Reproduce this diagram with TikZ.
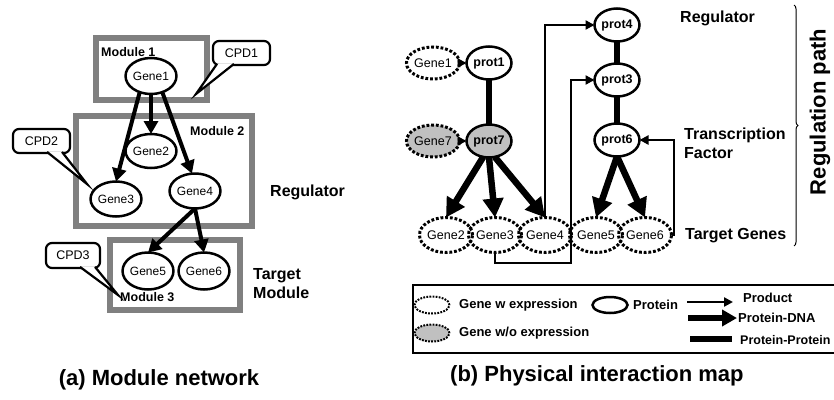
\documentclass[tikz,border=0pt]{standalone}
\usepackage{fontspec}
\setmainfont{Liberation Sans}
\usetikzlibrary{arrows.meta,decorations.pathreplacing,calc,shapes.geometric}
\definecolor{modgray}{RGB}{128,128,128}
\definecolor{genegray}{RGB}{192,192,192}
\tikzset{
  modbox/.style={draw=modgray, line width=6pt},
  gene/.style={ellipse, draw, line width=2.5pt, inner sep=0pt, outer sep=0pt,
    minimum width=44pt, minimum height=35pt, font=\fontsize{12}{12}\selectfont},
  reg/.style={-{Triangle[length=13pt,width=14pt]}, line width=4pt},
  lbl/.style={font=\bfseries\fontsize{16}{19}\selectfont, anchor=west, inner sep=0pt, align=left},
  modlbl/.style={font=\bfseries\fontsize{12.5}{12.5}\selectfont, anchor=west, inner sep=0pt},
  callout/.style={draw, fill=white, line width=2.2pt, rounded corners=6pt, inner sep=0pt, outer sep=0pt,
    minimum width=57pt, minimum height=24pt, font=\fontsize{12.5}{12.5}\selectfont},
  tail/.style={line width=2.2pt, line join=miter},
  dgene/.style={ellipse, draw, line width=3pt, dash pattern=on 2.8pt off 1.9pt, inner sep=0pt, outer sep=0pt,
    minimum width=46pt, minimum height=35pt, font=\fontsize{12.5}{12.5}\selectfont},
  prot/.style={ellipse, draw, line width=2.5pt, inner sep=0pt, outer sep=0pt,
    minimum width=45pt, minimum height=33pt, font=\bfseries\fontsize{12.5}{12.5}\selectfont},
  product/.style={-{Triangle[length=9pt,width=9pt]}, line width=2.3pt},
  pdna/.style={-{Triangle[length=19pt,width=20pt]}, line width=6.5pt},
  ppi/.style={line width=5.5pt},
  legdot/.style={ellipse, draw, line width=2pt, dash pattern=on 1.8pt off 1.3pt, minimum width=35pt, minimum height=17pt, inner sep=0pt},
  leglbl/.style={font=\bfseries\fontsize{13}{13}\selectfont, anchor=west, inner sep=0pt},
  caption/.style={font=\bfseries\fontsize{22}{22}\selectfont, inner sep=0pt}
}
\begin{document}
\begin{tikzpicture}[x=1pt,y=-1pt]
\useasboundingbox (0,0) rectangle (834,399);

% ---------------- (a) Module network ----------------
\draw[modbox] (96,38) rectangle (207,100);
\draw[modbox] (76,116) rectangle (252,226);
\draw[modbox] (110,240) rectangle (240,310);
\node[modlbl] (m1) at (101,52) {Module 1};
\node[modlbl] (m2) at (190,131) {Module 2};
\node[modlbl] (m3) at (120,297) {Module 3};

\node[gene, minimum width=42pt, minimum height=36pt] (g1) at (151,76) {Gene1};
\node[gene, minimum width=42pt, minimum height=34pt] (g2) at (151,151) {Gene2};
\node[gene, minimum width=45pt] (g3) at (116,199) {Gene3};
\node[gene, minimum width=46pt] (g4) at (195,191) {Gene4};
\node[gene, minimum width=46pt, minimum height=37pt] (g5) at (148,271) {Gene5};
\node[gene, minimum width=46pt, minimum height=37pt] (g6) at (204,271) {Gene6};

\draw[reg] (g1.-125) -- (g3.north);
\draw[reg] (g1.south) -- (g2.north);
\draw[reg] (g1.-55) -- (g4.100);
\draw[reg] (g4.south) -- (g5.north);
\draw[reg] (g4.south) -- (g6.north);

% callouts
\node[callout] (cpd1) at (241.5,53) {CPD1};
\coordinate (cpd1tip) at (196,94);
\coordinate (cpd1a) at ($(cpd1.south west)+(4,-1.1)$);
\coordinate (cpd1b) at ($(cpd1.south west)+(21,-1.1)$);
\fill[white] (cpd1a) -- (cpd1b) -- (cpd1tip) -- cycle;
\draw[tail] (cpd1a) -- (cpd1tip) -- (cpd1b);

\node[callout] (cpd2) at (41.5,141) {CPD2};
\coordinate (cpd2tip) at (87,184);
\coordinate (cpd2a) at ($(cpd2.south west)+(34,-1.1)$);
\coordinate (cpd2b) at ($(cpd2.south west)+(49,-1.1)$);
\fill[white] (cpd2a) -- (cpd2b) -- (cpd2tip) -- cycle;
\draw[tail] (cpd2a) -- (cpd2tip) -- (cpd2b);

\node[callout, minimum width=54pt, minimum height=25pt] (cpd3) at (73,255.5) {CPD3};
\coordinate (cpd3tip) at (118,295);
\coordinate (cpd3a) at ($(cpd3.south west)+(34,-1.1)$);
\coordinate (cpd3b) at ($(cpd3.south west)+(49,-1.1)$);
\fill[white] (cpd3a) -- (cpd3b) -- (cpd3tip) -- cycle;
\draw[tail] (cpd3a) -- (cpd3tip) -- (cpd3b);

\node[lbl] (regA) at (270,192) {Regulator};
\node[lbl] (tmA) at (253,284) {Target\\Module};

\node[caption] (capA) at (159,380) {(a) Module network};

% ---------------- (b) Physical interaction map ----------------
\node[dgene, minimum width=44pt, minimum height=32pt] (b1) at (433,63) {Gene1};
\node[prot] (p1) at (489,63) {prot1};
\node[dgene, fill=genegray, minimum width=44pt, minimum height=32pt] (b7) at (433,141) {Gene7};
\node[prot, fill=genegray] (p7) at (489,141) {prot7};
\node[prot] (p4) at (617,25) {prot4};
\node[prot] (p3) at (617,80) {prot3};
\node[prot] (p6) at (617,140) {prot6};

\node[dgene] (b2) at (446,235) {Gene2};
\node[dgene] (b3) at (495,235) {Gene3};
\node[dgene] (b4) at (545,235) {Gene4};
\node[dgene] (b5) at (596,235) {Gene5};
\node[dgene] (b6) at (645,235) {Gene6};

\draw[product] (b1) -- (p1);
\draw[product] (b7) -- (p7);
\draw[ppi] (p1) -- (p7);
\draw[ppi] (p4) -- (p3);
\draw[ppi] (p3) -- (p6);

\draw[pdna] (p7.-110) -- (b2.north);
\draw[pdna] (p7.south) -- (b3.north);
\draw[pdna] (p7.-70) -- (b4.north);
\draw[pdna] (p6.south) -- (b5.north);
\draw[pdna] (p6.south) -- (b6.north);

\coordinate (t3) at (571,263);
\coordinate (t6) at (674,235);
\draw[product] (b4.north) |- (p4.west);
\draw[product] (b3.south) |- (t3) |- (p3.west);
\draw[product] (b6.east) -- (t6) |- (p6.east);

\node[lbl] (regB) at (680,18) {Regulator};
\node[lbl] (tfB) at (684,143) {Transcription\\Factor};
\node[lbl] (tgB) at (685,236) {Target Genes};

\draw[line width=1pt, decorate, decoration={brace, amplitude=4pt}] (794,5) -- (794,246);
\node[font=\bfseries\fontsize{22}{22}\selectfont, rotate=90, inner sep=0pt] (rp) at (820,112) {Regulation path};

% legend
\draw[line width=1.5pt] (413,285) rectangle (850,353);
\node[legdot] (lg1) at (432,305) {};
\node[leglbl] (lt1) at (459,305) {Gene w expression};
\node[legdot, fill=genegray] (lg2) at (432,333) {};
\node[leglbl] (lt2) at (459,333) {Gene w/o expression};
\node[ellipse, draw, line width=2.5pt, minimum width=35pt, minimum height=16pt, inner sep=0pt] (lg3) at (610,305) {};
\node[leglbl] (lt3) at (633,305) {Protein};
\coordinate (la1) at (687,302); \coordinate (la2) at (733,302);
\draw[product] (la1) -- (la2);
\node[leglbl] (lt4) at (743,298) {Product};
\coordinate (lb1) at (688,318); \coordinate (lb2) at (737,318);
\draw[-{Triangle[length=15pt,width=16pt]}, line width=6pt] (lb1) -- (lb2);
\node[leglbl] (lt5) at (738,318) {Protein-DNA};
\coordinate (lc1) at (690,339); \coordinate (lc2) at (732,339);
\draw[ppi] (lc1) -- (lc2);
\node[leglbl, font=\bfseries\fontsize{12.5}{12.5}\selectfont] (lt6) at (740,340) {Protein-Protein};

\node[caption, anchor=west] (capB) at (450,376) {(b) Physical interaction map};
\end{tikzpicture}
\end{document}
